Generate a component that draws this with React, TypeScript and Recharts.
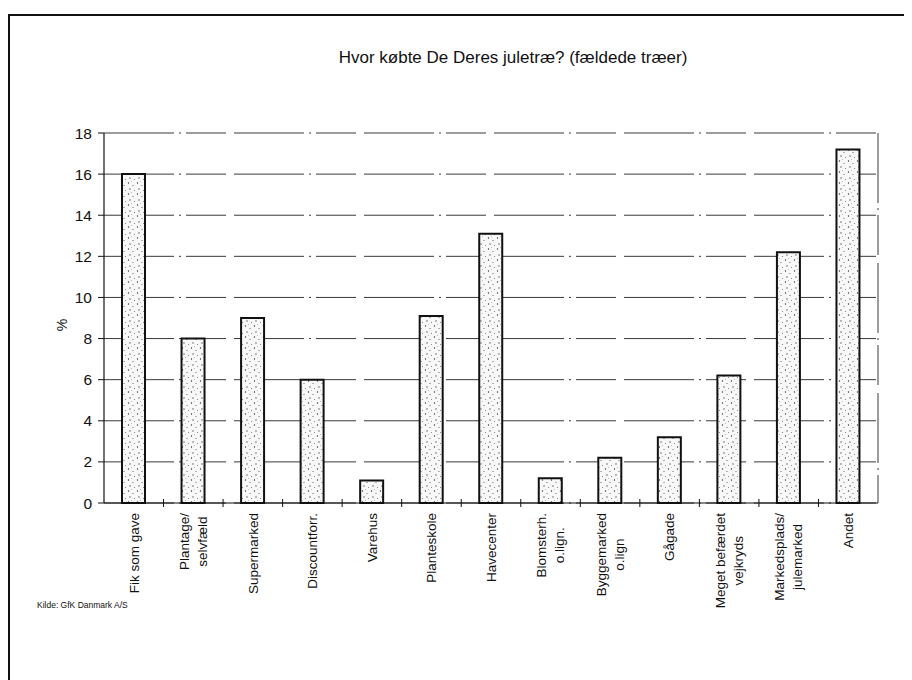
import React from 'react';
import { BarChart, Bar, XAxis, YAxis, CartesianGrid } from 'recharts';

const categories = [
  'Fik som gave',
  'Plantage/\nselvfæld',
  'Supermarked',
  'Discountforr.',
  'Varehus',
  'Planteskole',
  'Havecenter',
  'Blomsterh.\no.lign.',
  'Byggemarked\no.lign',
  'Gågade',
  'Meget befærdet\nvejkryds',
  'Markedsplads/\njulemarked',
  'Andet',
];
const values = [16, 8, 9, 6, 1.1, 9.1, 13.1, 1.2, 2.2, 3.2, 6.2, 12.2, 17.2];
const yTicks = [0, 2, 4, 6, 8, 10, 12, 14, 16, 18];

const title = 'Hvor købte De Deres juletræ? (fældede træer)';
const source = 'Kilde: GfK Danmark A/S';

const data = categories.map((c, i) => ({ name: c, value: values[i] }));

const FONT = "'Liberation Sans', Arial, sans-serif";
const X_FONT_SIZE = 13.5;
const LINE_H = 18;

let ctx: CanvasRenderingContext2D | null = null;
function measure(t: string): number {
  if (!ctx) {
    const c = document.createElement('canvas');
    ctx = c.getContext('2d');
  }
  if (!ctx) return t.length * 7;
  ctx.font = `${X_FONT_SIZE}px 'Liberation Sans'`;
  return ctx.measureText(t).width;
}

const XTick = (props: any) => {
  const { x, y, payload, index } = props;
  const lines: string[] = String(payload.value).split('\n');
  const n = lines.length;
  const maxW = Math.max(...lines.map(measure));
  const cy = y + 10 + maxW / 2;
  const half = typeof payload.offset === 'number' ? payload.offset : 0;
  return (
    <g>
      {index > 0 && half > 0 ? (
        <line x1={x - half} x2={x - half} y1={y - 4} y2={y + 4} stroke="#111" strokeWidth={1} />
      ) : null}
      {lines.map((l, i) => {
        const lx = x + (i - (n - 1) / 2) * LINE_H + 4.8;
        return (
          <text
            key={i}
            transform={`translate(${lx}, ${cy}) rotate(-90)`}
            textAnchor="middle"
            fontSize={X_FONT_SIZE}
            fontFamily={FONT}
            fill="#111"
          >
            {l}
          </text>
        );
      })}
    </g>
  );
};

const PercentLabel = (props: any) => {
  const vb = props.viewBox || {};
  const cx = (vb.x ?? 0) + 13;
  const cy = (vb.y ?? 0) + (vb.height ?? 0) / 2 + 7;
  return (
    <text
      transform={`translate(${cx}, ${cy}) rotate(-90)`}
      textAnchor="middle"
      fontSize={14}
      fontFamily={FONT}
      fill="#111"
    >
      %
    </text>
  );
};

export default function App() {
  return (
    <div
      style={{
        position: 'relative',
        width: 904,
        height: 664,
        marginTop: 6,
        borderTop: '2px solid #111',
        borderLeft: '2px solid #111',
        fontFamily: FONT,
        background: '#fff',
      }}
    >
      <div
        style={{
          position: 'absolute',
          left: 203,
          top: 32,
          width: 600,
          textAlign: 'center',
          fontSize: 17,
          color: '#111',
        }}
      >
        {title}
      </div>
      <div
        style={{
          position: 'absolute',
          left: 27,
          top: 584,
          fontSize: 8.5,
          color: '#111',
        }}
      >
        {source}
      </div>
      <div style={{ position: 'absolute', left: 0, top: 0 }}>
        <BarChart
          width={894}
          height={650}
          data={data}
          margin={{ top: 117, right: 26, left: 44, bottom: 43 }}
          barCategoryGap={0}
        >
          <defs>
            <pattern id="stipple" width="9" height="11" patternUnits="userSpaceOnUse">
              <rect width="9" height="11" fill="#f8f8f8" />
              <circle cx="1.5" cy="2" r="0.65" fill="#333" />
              <circle cx="6" cy="4.5" r="0.55" fill="#555" />
              <circle cx="3" cy="8" r="0.65" fill="#444" />
              <circle cx="7.5" cy="9.5" r="0.5" fill="#666" />
              <circle cx="4.5" cy="0.5" r="0.4" fill="#777" />
            </pattern>
          </defs>
          <CartesianGrid
            stroke="#3a3a3a"
            strokeDasharray="70 5 2 5 40 8"
            vertical={true}
            verticalCoordinatesGenerator={(p: any) => [p.offset.left + p.offset.width]}
          />
          <XAxis
            dataKey="name"
            interval={0}
            tick={<XTick />}
            tickLine={false}
            tickSize={0}
            tickMargin={0}
            axisLine={{ stroke: '#111', strokeWidth: 1.2 }}
            height={120}
          />
          <YAxis
            domain={[0, 18]}
            ticks={yTicks}
            interval={0}
            width={50}
            tickSize={6}
            tickMargin={6}
            tickLine={{ stroke: '#111' }}
            axisLine={{ stroke: '#111', strokeWidth: 1.2 }}
            tick={{ fill: '#111', fontSize: 15.5, fontFamily: FONT }}
            label={<PercentLabel />}
          />
          <Bar
            dataKey="value"
            barSize={23}
            fill="url(#stipple)"
            stroke="#111"
            strokeWidth={2}
            isAnimationActive={false}
          />
        </BarChart>
      </div>
    </div>
  );
}
